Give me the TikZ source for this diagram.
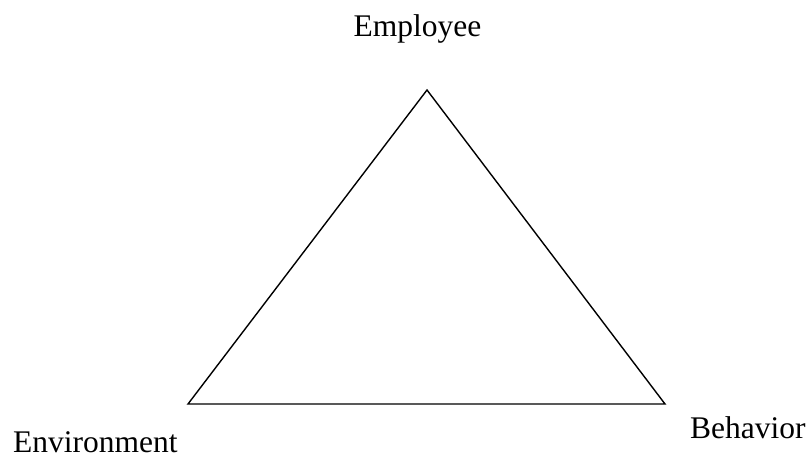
\documentclass[tikz,border=0pt]{standalone}
\usepackage{fontspec}
\setmainfont{Liberation Serif}
\begin{document}
\begin{tikzpicture}[x=1pt,y=1pt,
  lbl/.style={inner sep=0pt,font=\fontsize{31.5}{37}\selectfont},
  edge/.style={line width=1.4pt,line join=miter}]
\useasboundingbox (0,0) rectangle (810,460);
\coordinate (top) at (427,370);
\coordinate (bl) at (188,56);
\coordinate (br) at (665,56);
\draw[edge] (top) -- (bl) -- (br) -- cycle;
\node[lbl,anchor=base] (emp) at (417.5,423) {Employee};
\node[lbl,anchor=base west] (env) at (13,8) {Environment};
\node[lbl,anchor=base west] (beh) at (690,22) {Behavior};
\end{tikzpicture}
\end{document}
